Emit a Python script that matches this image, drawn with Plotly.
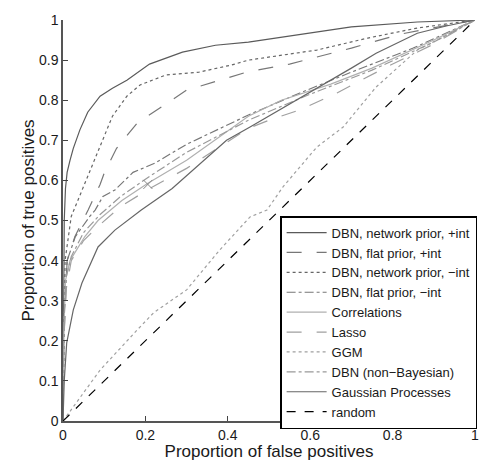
import plotly.graph_objects as go

# ---- data ----
names = ["DBN, network prior, +int", "DBN, flat prior, +int", "DBN, network prior, \u2212int",
         "DBN, flat prior, \u2212int", "Correlations", "Lasso", "GGM", "DBN (non\u2212Bayesian)",
         "Gaussian Processes", "random"]

fp_net_pos = [0, 0.001, 0.003, 0.006, 0.01, 0.017, 0.025, 0.041, 0.06, 0.09, 0.12, 0.155, 0.21, 0.29, 0.37, 0.45, 0.55, 0.70, 0.86, 1]
tp_net_pos = [0, 0.30, 0.50, 0.58, 0.62, 0.65, 0.68, 0.726, 0.77, 0.81, 0.83, 0.85, 0.89, 0.92, 0.937, 0.945, 0.96, 0.983, 0.995, 1]

fp_flat_pos = [0, 0.002, 0.01, 0.029, 0.061, 0.09, 0.10, 0.13, 0.18, 0.228, 0.30, 0.446, 0.55, 0.70, 0.82, 1]
tp_flat_pos = [0, 0.20, 0.40, 0.46, 0.526, 0.59, 0.618, 0.68, 0.743, 0.775, 0.825, 0.87, 0.89, 0.93, 0.965, 1]

fp_net_neg = [0, 0.002, 0.005, 0.02, 0.046, 0.085, 0.12, 0.155, 0.187, 0.25, 0.33, 0.41, 0.45, 0.616, 0.74, 0.86, 1]
tp_net_neg = [0, 0.25, 0.40, 0.51, 0.576, 0.676, 0.76, 0.81, 0.838, 0.863, 0.87, 0.888, 0.90, 0.925, 0.955, 0.98, 1]

fp_flat_neg = [0, 0.002, 0.01, 0.03, 0.065, 0.078, 0.097, 0.126, 0.17, 0.223, 0.30, 0.454, 0.575, 0.70, 0.85, 1]
tp_flat_neg = [0, 0.25, 0.40, 0.46, 0.51, 0.526, 0.56, 0.576, 0.62, 0.643, 0.69, 0.765, 0.818, 0.87, 0.93, 1]

fp_corr = [0, 0.002, 0.006, 0.017, 0.053, 0.085, 0.143, 0.206, 0.30, 0.45, 0.53, 0.65, 0.75, 0.9, 1]
tp_corr = [0, 0.22, 0.35, 0.40, 0.46, 0.50, 0.55, 0.593, 0.65, 0.76, 0.80, 0.84, 0.88, 0.95, 1]

fp_lasso = [0, 0.002, 0.008, 0.02, 0.05, 0.09, 0.14, 0.211, 0.30, 0.45, 0.50, 0.575, 0.665, 0.78, 0.9, 1]
tp_lasso = [0, 0.20, 0.33, 0.40, 0.45, 0.49, 0.535, 0.58, 0.63, 0.73, 0.75, 0.776, 0.818, 0.88, 0.94, 1]

fp_ggm = [0, 0.09, 0.18, 0.22, 0.30, 0.38, 0.454, 0.495, 0.534, 0.616, 0.68, 0.76, 0.86, 0.956, 1]
tp_ggm = [0, 0.127, 0.227, 0.27, 0.327, 0.426, 0.509, 0.526, 0.584, 0.683, 0.733, 0.833, 0.925, 0.975, 1]

fp_nonbayes = [0, 0.002, 0.008, 0.02, 0.05, 0.09, 0.14, 0.21, 0.30, 0.45, 0.60, 0.75, 0.90, 1]
tp_nonbayes = [0, 0.24, 0.36, 0.41, 0.47, 0.515, 0.56, 0.61, 0.67, 0.75, 0.815, 0.875, 0.945, 1]

fp_gp = [0, 0.003, 0.009, 0.025, 0.046, 0.085, 0.126, 0.19, 0.265, 0.333, 0.397, 0.454, 0.55, 0.616, 0.70, 0.76, 0.86, 0.93, 1]
tp_gp = [0, 0.10, 0.195, 0.277, 0.344, 0.434, 0.476, 0.526, 0.58, 0.643, 0.70, 0.733, 0.79, 0.83, 0.88, 0.917, 0.967, 0.985, 1]

fp_random = [0, 1]
tp_random = [0, 1]

marker_fp = [0.206]
marker_tp = [0.59]

tick_vals_x = [0, 0.2, 0.4, 0.6, 0.8, 1]
tick_text_x = ["0", "0.2", "0.4", "0.6", "0.8", "1"]
tick_vals_y = [0, 0.1, 0.2, 0.3, 0.4, 0.5, 0.6, 0.7, 0.8, 0.9, 1]
tick_text_y = ["0", "0.1", "0.2", "0.3", "0.4", "0.5", "0.6", "0.7", "0.8", "0.9", "1"]

series = [
    (fp_net_pos, tp_net_pos, "#5a5a5a", "solid"),
    (fp_flat_pos, tp_flat_pos, "#777777", "longdash"),
    (fp_net_neg, tp_net_neg, "#666666", "dot"),
    (fp_flat_neg, tp_flat_neg, "#777777", "dashdot"),
    (fp_corr, tp_corr, "#b0b0b0", "solid"),
    (fp_lasso, tp_lasso, "#a0a0a0", "longdash"),
    (fp_ggm, tp_ggm, "#a0a0a0", "dot"),
    (fp_nonbayes, tp_nonbayes, "#999999", "dashdot"),
    (fp_gp, tp_gp, "#666666", "solid"),
    (fp_random, tp_random, "#000000", "dash"),
]

fig = go.Figure()
for name, (x, y, c, d) in zip(names, series):
    fig.add_trace(go.Scatter(x=x, y=y, mode="lines", name=name,
                             line=dict(color=c, dash=d, width=1.2)))

fig.add_trace(go.Scatter(x=marker_fp, y=marker_tp, mode="markers", showlegend=False,
                         marker=dict(symbol="x-thin", size=9, line=dict(color="#888888", width=1))))

fig.update_layout(
    width=492, height=461,
    margin=dict(l=63, r=17, t=20, b=40),
    paper_bgcolor="white", plot_bgcolor="white",
    font=dict(family="Liberation Sans, Arial, sans-serif", size=14, color="#1a1a1a"),
    showlegend=True,
    legend=dict(x=0.527, y=0.511, xanchor="left", yanchor="top",
                bgcolor="white", bordercolor="black", borderwidth=1.5,
                font=dict(size=13, color="#1a1a1a"), tracegroupgap=0,
                itemwidth=40),
)
fig.update_xaxes(range=[0, 1], tickvals=tick_vals_x, ticktext=tick_text_x,
                 ticks="inside", ticklen=5, tickcolor="#444444", showgrid=False,
                 zeroline=False, showline=True, linecolor="#555555", linewidth=1.5,
                 automargin=False,
                 title=dict(text="Proportion of false positives", font=dict(size=17), standoff=0),
                 tickfont=dict(size=14))
fig.update_yaxes(range=[0, 1], tickvals=tick_vals_y, ticktext=tick_text_y,
                 ticks="inside", ticklen=5, tickcolor="#444444", showgrid=False,
                 zeroline=False, showline=True, linecolor="#555555", linewidth=1.5,
                 automargin=False,
                 title=dict(text="Proportion of true positives", font=dict(size=17), standoff=0),
                 tickfont=dict(size=14))

fig.write_html("out.html", config={"displayModeBar": False},
               post_script="document.body.style.margin='0';document.body.style.overflow='hidden';")
